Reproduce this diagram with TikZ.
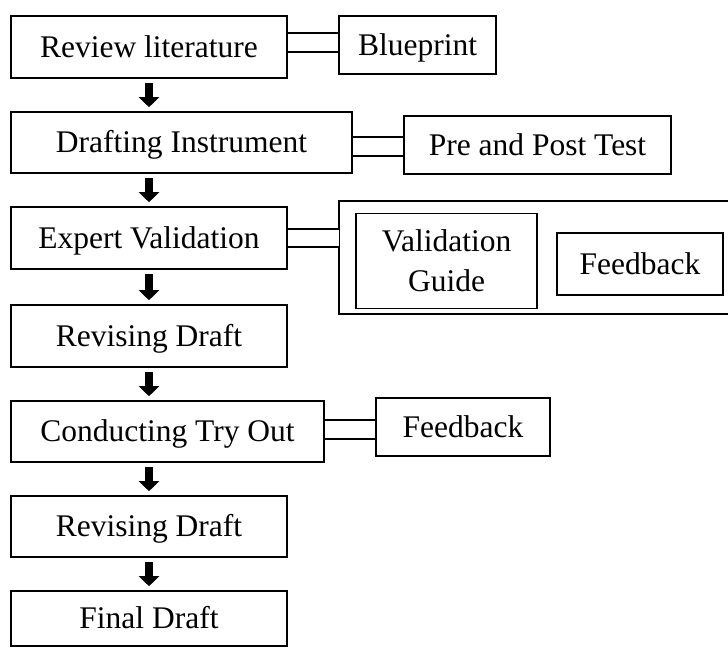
\documentclass[tikz,border=0pt]{standalone}
\usepackage{fontspec}
\setmainfont{Liberation Serif}
\usetikzlibrary{arrows.meta}

\tikzset{
	stepbox/.style={draw, line width=0.8pt, inner sep=0pt, align=center,
		font=\fontsize{15.75}{20}\selectfont},
	rowbox/.style={stepbox, text height=11pt, text depth=1pt},
	twin/.style={double, line width=0.8pt, double distance=8.45pt},
	flow/.style={line width=3.6pt, -{Triangle[width=10pt,length=5pt]},
		shorten <=2pt, shorten >=2pt}
}

\begin{document}
\begin{tikzpicture}[x=0.5pt, y=-0.5pt]
			\useasboundingbox (0,0) rectangle (728,648);

			% main column
			\node[rowbox, minimum width=138pt, minimum height=31pt] (review) at (149,47) {Review literature};
			\node[rowbox, minimum width=170.5pt, minimum height=30.5pt] (draft) at (181.5,142.5) {Drafting Instrument};
			\node[rowbox, minimum width=138pt, minimum height=31pt] (expert) at (149,238) {Expert Validation};
			\node[rowbox, minimum width=138pt, minimum height=31pt] (revise) at (149,336) {Revising Draft};
			\node[rowbox, minimum width=156.5pt, minimum height=30.5pt] (conduct) at (167.5,431.5) {Conducting Try Out};
			\node[rowbox, minimum width=138pt, minimum height=30.5pt] (retry) at (149,526.5) {Revising Draft};
			\node[rowbox, minimum width=138pt, minimum height=27.5pt] (final) at (149,618.5) {Final Draft};

			% side boxes
			\node[rowbox, minimum width=78.5pt, minimum height=29pt] (blueprint) at (417.5,45) {Blueprint};
			\node[rowbox, minimum width=133.5pt, minimum height=29pt] (pretest) at (537.5,145) {Pre and Post Test};
			\node[rowbox, minimum width=87pt, minimum height=29pt] (tryfeed) at (463,427) {Feedback};

			% validation panel
			\node[inner sep=0pt, minimum width=194.5pt, minimum height=56.5pt] (panel) at (533.5,257.5) {};
			\draw[line width=1pt] (panel.north east) -- (panel.north west) -- (panel.south west) -- (panel.south east);
			\node[stepbox, minimum width=90.5pt, minimum height=47.5pt] (guide) at (446.5,261) {Validation\\Guide};
			\node[rowbox, minimum width=83pt, minimum height=31pt] (expfeed) at (640,264) {Feedback};

			\foreach \a/\b in {review/draft, draft/expert, expert/revise, revise/conduct, conduct/retry, retry/final}
			{
				\draw[flow] (\a.south -| final.north) -- (\b.north -| final.north);
			}

			\draw[twin] ([yshift=2.25pt]review.east) -- ([yshift=2.25pt]review.east -| blueprint.west);
			\draw[twin] ([yshift=-2pt]draft.east) -- ([yshift=-2pt]draft.east -| pretest.west);
			\draw[twin] (expert.east) -- (expert.east -| panel.west);
			\draw[twin] ([yshift=1pt]conduct.east) -- ([yshift=1pt]conduct.east -| tryfeed.west);
		\end{tikzpicture}
\end{document}
